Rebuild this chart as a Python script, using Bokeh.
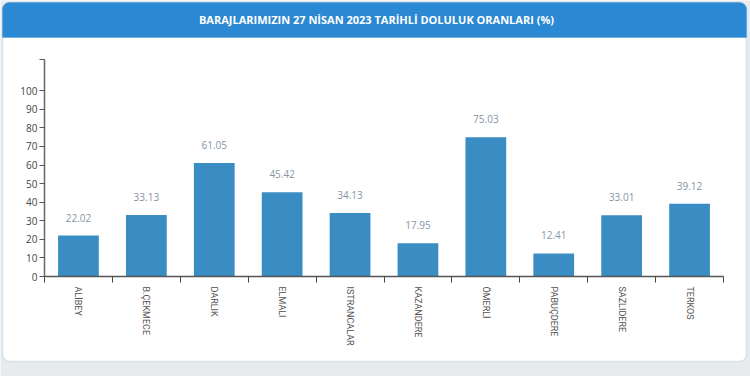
import math
from bokeh.plotting import figure
from bokeh.models import ColumnDataSource, FixedTicker, BoxAnnotation, Label, Range1d
from bokeh.core.properties import value
from bokeh.embed import file_html
from bokeh.resources import INLINE

# ---- data ----
dams = ["ALİBEY", "B.ÇEKMECE", "DARLIK", "ELMALI", "ISTRANCALAR",
        "KAZANDERE", "ÖMERLİ", "PABUÇDERE", "SAZLIDERE", "TERKOS"]
fill_pct = [22.02, 33.13, 61.05, 45.42, 34.13, 17.95, 75.03, 12.41, 33.01, 39.12]
y_ticks = [0, 10, 20, 30, 40, 50, 60, 70, 80, 90, 100]
y_axis_top = 117
title_text = "BARAJLARIMIZIN 27 NİSAN 2023 TARİHLİ DOLULUK ORANLARI (%)"

# ---- layout (pixels) ----
W, H = 750, 376
plot_left, plot_right, plot_top, plot_bottom = 44, 723, 58.7, 276

n = len(dams)
centers = [i + 0.5 for i in range(n)]
src = ColumnDataSource(dict(x=centers, top=fill_pct, label=[f"{v:.2f}" for v in fill_pct]))

# frame covers the whole canvas; axes are pinned inside it
xu = (plot_right - plot_left) / n
yu = (plot_bottom - plot_top) / y_axis_top
x_range = Range1d(-plot_left / xu, n + (W - plot_right) / xu)
y_range = Range1d(-(H - plot_bottom) / yu, plot_bottom / yu)

p = figure(width=W, height=H, x_range=x_range, y_range=y_range,
           output_backend="svg", toolbar_location=None,
           min_border=0, min_border_left=0, min_border_right=0,
           min_border_top=0, min_border_bottom=0)
p.border_fill_color = "#e8ebee"
p.background_fill_color = "#e8ebee"
p.outline_line_color = None
p.grid.visible = False

# card + header (screen units: from frame left / bottom)
card = BoxAnnotation(left=2, right=746, top=H - 2, bottom=H - 361,
                     left_units="screen", right_units="screen", top_units="screen", bottom_units="screen",
                     fill_color="white", fill_alpha=1.0, line_color="#94b8d0", line_width=1.5,
                     border_radius=7, level="underlay")
header = BoxAnnotation(left=2, right=746, top=H - 2, bottom=H - 37,
                       left_units="screen", right_units="screen", top_units="screen", bottom_units="screen",
                       fill_color="#2b88d2", fill_alpha=1.0, line_color="#2b88d2", line_width=1.0,
                       border_radius=(7, 7, 0, 0), level="underlay")
p.add_layout(card)
p.add_layout(header)

title = Label(x=376, y=H - 19, x_units="screen", y_units="screen", text=title_text,
              text_align="center", text_baseline="middle", text_color="white",
              text_font="Open Sans", text_font_style="bold", text_font_size="11px")
p.add_layout(title)

p.vbar(x="x", top="top", width=0.6, source=src, fill_color="#3a8dc2", line_color=None)
p.text(x="x", y="top", text="label", source=src, y_offset=-18,
       text_align="center", text_baseline="middle", text_color="#8595a5",
       text_font=value("Open Sans"), text_font_size="10px")

# y axis
ya = p.yaxis[0]
ya.fixed_location = 0
ya.bounds = (0, y_axis_top)
ya.ticker = FixedTicker(ticks=y_ticks, minor_ticks=[y_axis_top])
ya.axis_line_color = "#666666"
ya.axis_line_width = 1.5
ya.major_tick_line_color = "#555555"
ya.major_tick_in = 0
ya.major_tick_out = 5
ya.minor_tick_line_color = "#555555"
ya.minor_tick_in = 0
ya.minor_tick_out = 5
ya.major_label_standoff = 2
ya.major_label_text_font = "Open Sans"
ya.major_label_text_font_size = "10px"
ya.major_label_text_color = "#444444"

# x axis: ticks at boundaries, labels at centres
xa = p.xaxis[0]
xa.fixed_location = 0
xa.bounds = (0, n)
xa.ticker = FixedTicker(ticks=centers, minor_ticks=list(range(n + 1)))
xa.major_label_overrides = {c: d for c, d in zip(centers, dams)}
xa.axis_line_color = "#555555"
xa.axis_line_width = 1.5
xa.major_tick_line_color = None
xa.major_tick_in = 0
xa.major_tick_out = 0
xa.minor_tick_line_color = "#444444"
xa.minor_tick_in = 0
xa.minor_tick_out = 6
xa.major_label_standoff = 4
xa.major_label_orientation = -math.pi / 2
xa.major_label_text_font = "Roboto"
xa.major_label_text_font_size = "9px"
xa.major_label_text_color = "#505050"

open("out.html", "w").write(file_html(p, INLINE))
